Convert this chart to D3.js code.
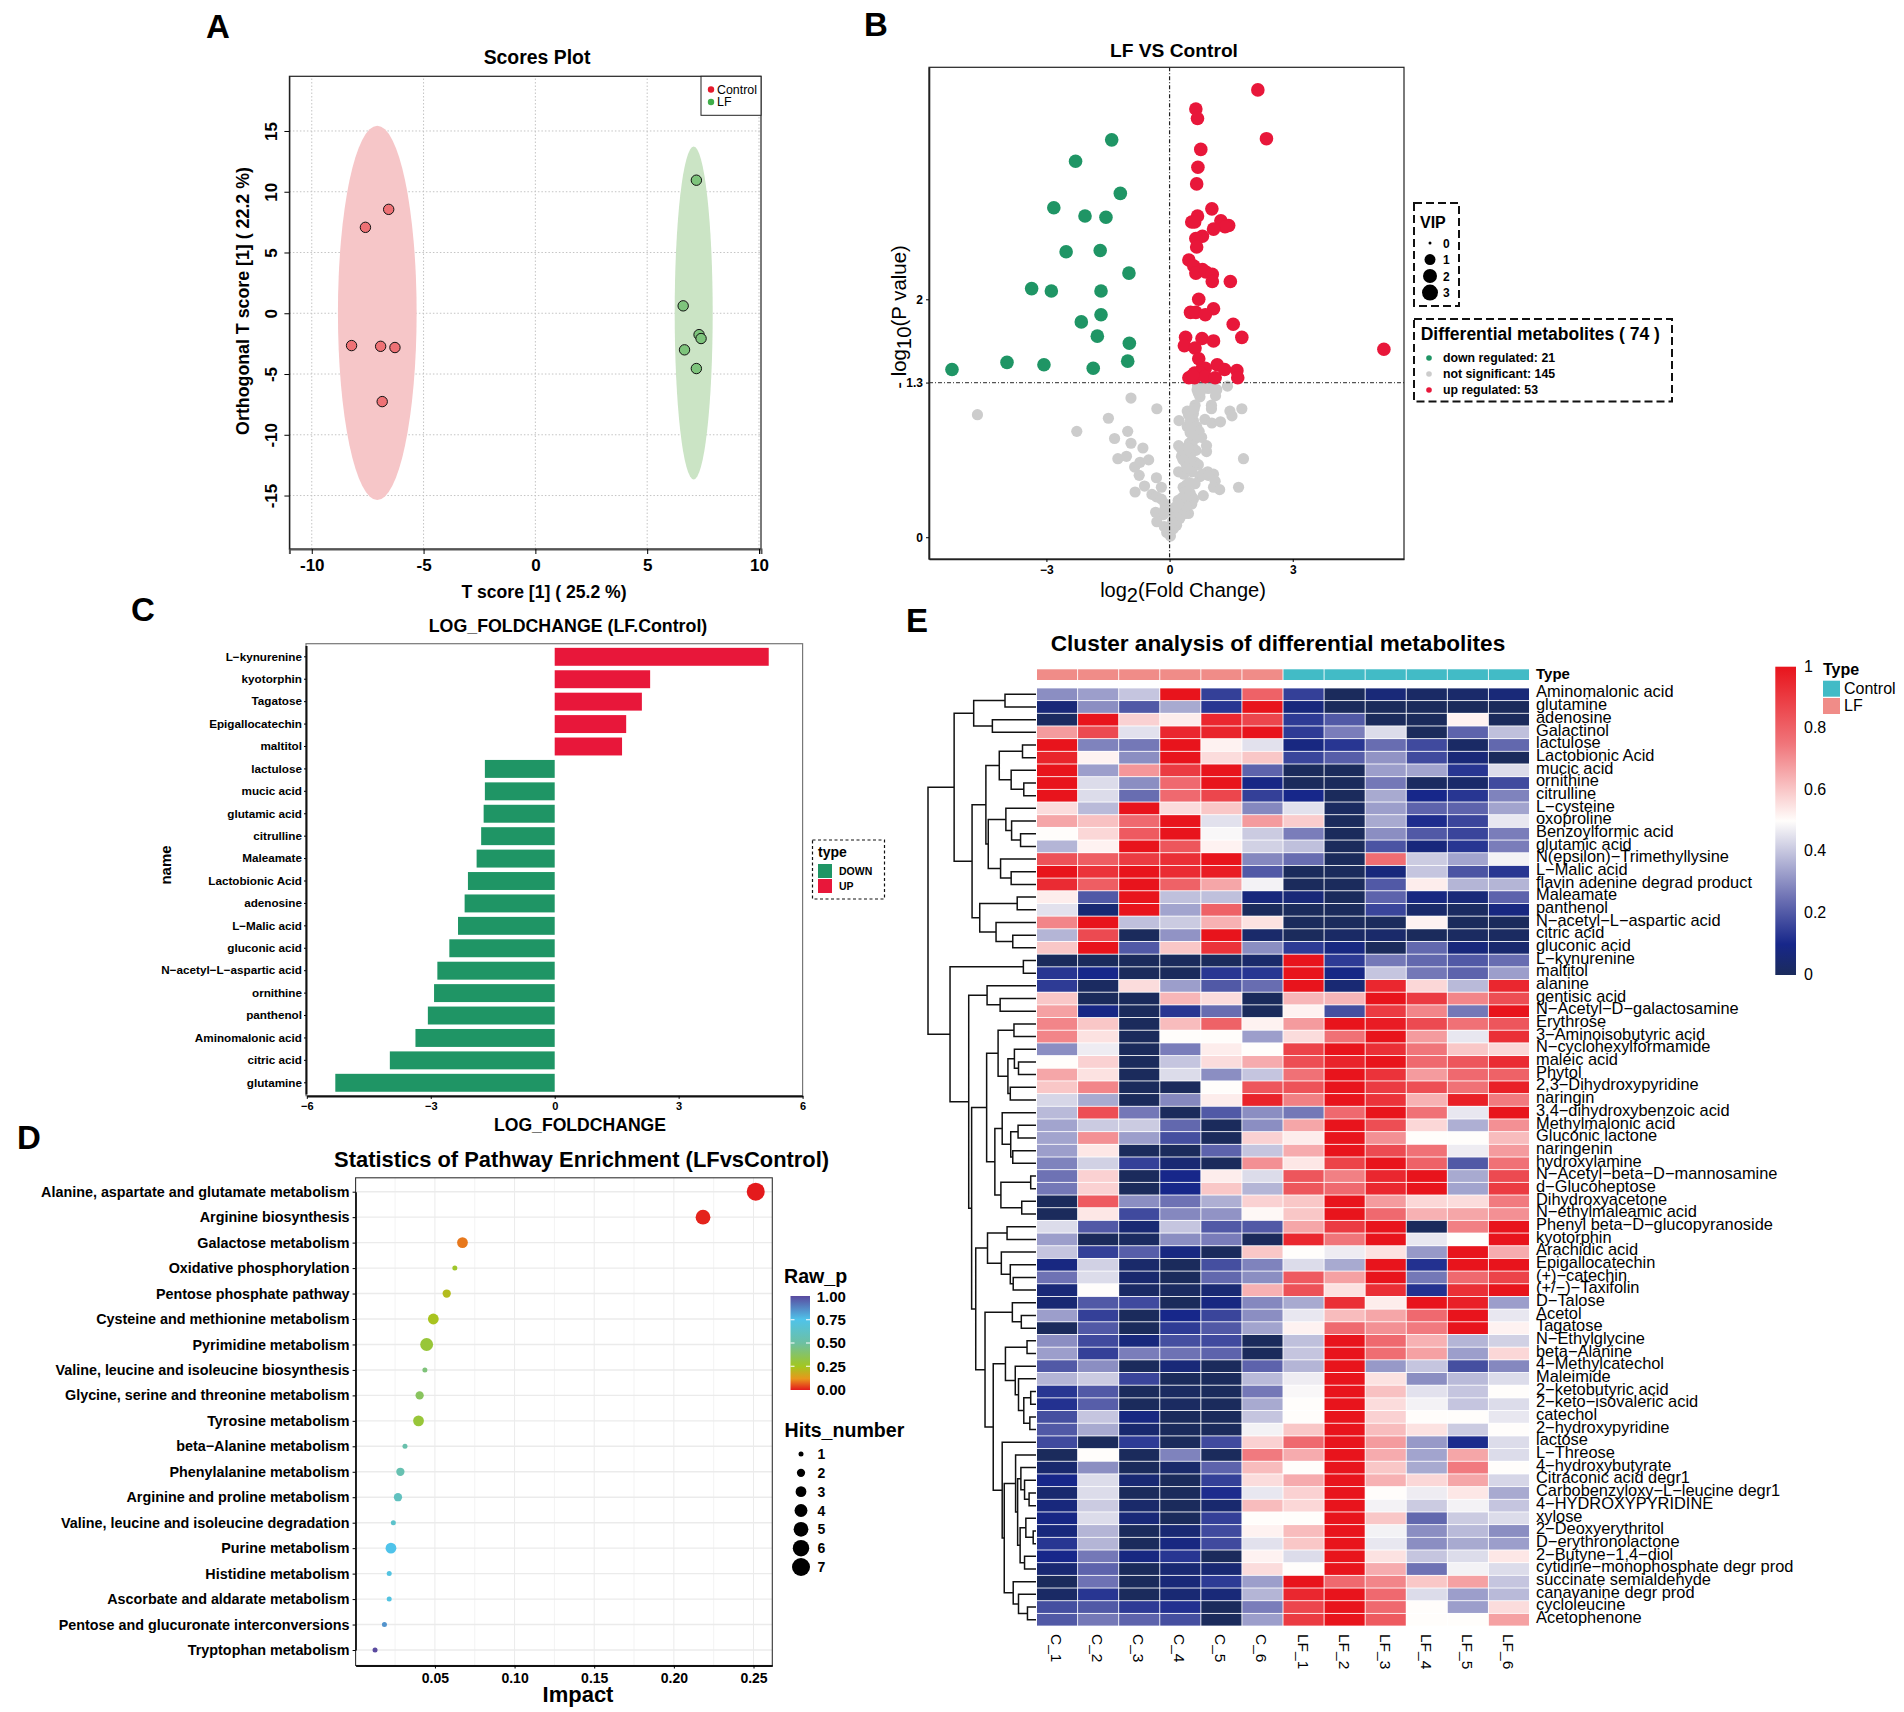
<!DOCTYPE html>
<html>
<head>
<meta charset="utf-8">
<script src="https://cdn.jsdelivr.net/npm/d3@7"></script>
<style>
  body { margin: 0; background: #fff; }
  svg { display: block; }
  text { font-family: "Liberation Sans", Arial, sans-serif; fill: #000; }
  .tb text { font-weight: bold; }
</style>
</head>
<body>
<svg id="fig" width="1904" height="1712"></svg>
<script>
// panel A, scores plot
const scoreControl = [[-8.22,-2.66],[-7.6,7.07],[-6.56,8.55],[-6.92,-2.72],[-6.28,-2.82],[-6.85,-7.27]];
const scoreLF = [[7.2,10.95],[6.61,0.61],[7.32,-1.76],[7.41,-2.08],[6.67,-3.01],[7.2,-4.55]];
const ellipseControl = [-7.07, 0.03, 1.76, 15.4]; // cx cy rx ry
const ellipseLF = [7.08, 0.02, 0.85, 13.7];

// panel B, volcano
const volcanoUp = [[2.15,3.76],[.64,3.6],[.68,3.52],[2.36,3.35],[.76,3.26],[.69,3.11],[.66,2.97],[1.03,2.76],[.68,2.7],[.54,2.65],[.61,2.65],[1.25,2.66],[1.44,2.62],[1.35,2.61],[1.07,2.59],[.8,2.53],[.64,2.51],[.66,2.44],[.47,2.33],[.59,2.28],[.8,2.25],[.64,2.22],[.88,2.23],[1.04,2.21],[1.04,2.15],[1.48,2.15],[.71,2],[1.07,1.92],[.51,1.89],[.64,1.89],[.87,1.87],[1.55,1.79],[1.76,1.68],[.39,1.68],[.79,1.67],[1.07,1.65],[.36,1.61],[.62,1.59],[5.22,1.58],[.71,1.5],[1.16,1.45],[1.34,1.41],[1.64,1.4],[.8,1.42],[.87,1.42],[.61,1.38],[.74,1.38],[.47,1.34],[.61,1.34],[.87,1.35],[1.11,1.34],[1.66,1.34],[.56,1.36]];
const volcanoDown = [[-1.41,3.34],[-2.29,3.16],[-1.2,2.89],[-2.82,2.77],[-2.06,2.7],[-1.55,2.69],[-2.52,2.4],[-1.69,2.41],[-.99,2.22],[-3.36,2.09],[-2.88,2.07],[-1.67,2.07],[-1.67,1.87],[-2.15,1.81],[-1.76,1.69],[-.98,1.63],[-5.3,1.41],[-3.96,1.47],[-3.06,1.45],[-1.86,1.42],[-1.02,1.48]];
const volcanoNot = [[-4.68,1.03],[-.94,1.17],[-.31,1.08],[-1.49,1],[-2.26,.89],[-1.02,.89],[-1.34,.83],[-.94,.79],[-.65,.75],[-1.26,.66],[-1.05,.68],[-.72,.63],[-.51,.65],[-.85,.59],[-.74,.52],[-.32,.5],[-.61,.43],[-.2,.42],[-.84,.38],[-.43,.36],[-.32,.34],[-.2,.32],[-.11,.28],[-.34,.21],[-.15,.19],[-.11,.24],[-.31,.13],[-.13,.09],[-.07,.04],[.02,.01],[-.03,.07],
  [.68,1.28],[.94,1.25],[1.15,1.24],[1.41,1.27],[1.12,1.19],[.67,1.24],[.74,1.18],[.62,1.11],[1.02,1.11],[1.02,1.08],[1.76,1.08],[1.47,1.06],[1.52,1.02],[.43,1.06],[.54,1.02],[.23,.98],[.58,.98],[.86,.99],[1.03,.96],[1.24,.97],[.43,.93],[.58,.94],[.62,.9],[.67,.87],[.78,.84],[.54,.81],[.22,.77],[.32,.73],[.9,.77],[.9,.72],[.64,.73],[.37,.7],[.46,.65],[1.8,.66],[.4,.62],[.62,.63],[.7,.61],[.54,.59],[.46,.56],[.22,.55],[.35,.53],[.93,.55],[.74,.51],[1.07,.53],[1.11,.47],[1.07,.42],[1.22,.4],[1.68,.42],[.62,.45],[.48,.46],[.33,.42],[.82,.35],[.5,.37],[.37,.35],[.58,.32],[.46,.3],[.29,.29],[.17,.21],[.46,.2],[.33,.24],[.54,.28],[.25,.16],[.13,.14],[.17,.1],[.09,.07],[.21,.18],[.29,.21],[.13,.25],
  [.7,1.21],[.82,1.26],[1.02,1.26],[.58,1.04],[.46,1.03],[.5,.97],[.66,.93],[.72,.89],[.62,.83],[.48,.79],[.27,.75],[.4,.72],[.51,.69],[.29,.68],[.58,.61],[.33,.65],[.5,.62],[.8,.53],[.94,.52],[.41,.44],[.54,.34],[.4,.32],[.24,.25],[.35,.28],[.09,.2],[.19,.14],[.05,.1],[.15,.12],[.27,.18],[.11,.23],[.37,.2],[.41,.26],[.21,.31],
  [.75,1.22],[.85,1.27],[.6,1.08],[.5,.88],[.55,.77],[.45,.75],[.55,.55],[.42,.58],[.38,.38],[.3,.33],[.2,.28],[.16,.17],[.07,.13]];
const vipSizes = [0, 1, 2, 3];
const metaboliteGroups = ["down regulated: 21", "not significant: 145", "up regulated: 53"];

// panel C, fold change bars
const fcNames = ["L\u2212kynurenine","kyotorphin","Tagatose","Epigallocatechin","maltitol","lactulose","mucic acid","glutamic acid","citrulline","Maleamate","Lactobionic Acid","adenosine","L\u2212Malic acid","gluconic acid","N\u2212acetyl\u2212L\u2212aspartic acid","ornithine","panthenol","Aminomalonic acid","citric acid","glutamine"];
const fcValues = [5.18,2.31,2.11,1.73,1.63,-1.69,-1.69,-1.72,-1.78,-1.89,-2.1,-2.18,-2.34,-2.55,-2.84,-2.92,-3.07,-3.37,-3.99,-5.31];

// panel D, pathway enrichment
const pathways = ["Alanine, aspartate and glutamate metabolism","Arginine biosynthesis","Galactose metabolism","Oxidative phosphorylation","Pentose phosphate pathway","Cysteine and methionine metabolism","Pyrimidine metabolism","Valine, leucine and isoleucine biosynthesis","Glycine, serine and threonine metabolism","Tyrosine metabolism","beta\u2212Alanine metabolism","Phenylalanine metabolism","Arginine and proline metabolism","Valine, leucine and isoleucine degradation","Purine metabolism","Histidine metabolism","Ascorbate and aldarate metabolism","Pentose and glucuronate interconversions","Tryptophan metabolism"];
const impact = [.2514,.2183,.0673,.0625,.0574,.049,.0448,.0437,.0404,.0397,.0312,.0283,.0268,.0239,.0224,.0213,.0213,.0183,.0124];
const rawP = [0,.01,.09,.27,.22,.24,.3,.42,.37,.3,.53,.55,.6,.64,.75,.72,.72,.85,1];
const hits = [7,5,3,1,2,3,4,1,2,3,1,2,2,1,3,1,1,1,1];
const hitLevels = [1,2,3,4,5,6,7];
const pLevels = [0,.25,.5,.75,1];

// panel E, heatmap
const samples = ["C_1","C_2","C_3","C_4","C_5","C_6","LF_1","LF_2","LF_3","LF_4","LF_5","LF_6"];
const sampleType = ["LF","LF","LF","LF","LF","LF","Control","Control","Control","Control","Control","Control"];
const metabolites = ["Aminomalonic acid","glutamine","adenosine","Galactinol","lactulose","Lactobionic Acid","mucic acid","ornithine","citrulline","L\u2212cysteine","oxoproline","Benzoylformic acid","glutamic acid","N(epsilon)\u2212Trimethyllysine","L\u2212Malic acid","flavin adenine degrad product","Maleamate","panthenol","N\u2212acetyl\u2212L\u2212aspartic acid","citric acid","gluconic acid","L\u2212kynurenine","maltitol","alanine","gentisic acid","N\u2212Acetyl\u2212D\u2212galactosamine","Erythrose","3\u2212Aminoisobutyric acid","N\u2212cyclohexylformamide","maleic acid","Phytol","2,3\u2212Dihydroxypyridine","naringin","3,4\u2212dihydroxybenzoic acid","Methylmalonic acid","Gluconic lactone","naringenin","hydroxylamine","N\u2212Acetyl\u2212beta\u2212D\u2212mannosamine","d\u2212Glucoheptose","Dihydroxyacetone","N\u2212ethylmaleamic acid","Phenyl beta\u2212D\u2212glucopyranoside","kyotorphin","Arachidic acid","Epigallocatechin","(+)\u2212catechin","(+/\u2212)\u2212Taxifolin","D\u2212Talose","Acetol","Tagatose","N\u2212Ethylglycine","beta\u2212Alanine","4\u2212Methylcatechol","Maleimide","2\u2212ketobutyric acid","2\u2212keto\u2212isovaleric acid","catechol","2\u2212hydroxypyridine","lactose","L\u2212Threose","4\u2212hydroxybutyrate","Citraconic acid degr1","Carbobenzyloxy\u2212L\u2212leucine degr1","4\u2212HYDROXYPYRIDINE","xylose","2\u2212Deoxyerythritol","D\u2212erythronolactone","2\u2212Butyne\u22121,4\u2212diol","cytidine\u2212monophosphate degr prod","succinate semialdehyde","canavanine degr prod","cycloleucine","Acetophenone"];
const heat = [
[.3,.33,.4,1,.15,.8,.15,0,.06,.02,.03,.06],
[.06,.3,.2,.35,.13,1,.07,0,0,0,0,0],
[.01,1,.58,.53,.95,.87,.14,.2,0,0,.52,0],
[.68,.86,.45,.95,.96,1,.14,.27,.44,0,.22,.39],
[1,.28,.26,1,.52,.45,.08,.13,.24,.17,.02,.23],
[.96,.52,.3,1,.56,.6,.16,.21,.31,.17,.06,0],
[1,.33,.69,.9,1,.22,0,0,.33,.34,.13,.44],
[1,.44,.3,.78,1,.09,0,0,.26,.01,.03,.17],
[1,.44,.24,.78,.87,.15,.1,0,.35,.1,.13,.28],
[.56,.38,1,.56,.6,.29,.45,.01,.33,.22,.22,.34],
[.66,.61,.78,1,.45,.68,.59,0,.35,.11,.16,.46],
[.5,.57,.82,1,.49,.41,.27,0,.3,.2,.16,.27],
[.37,.52,1,.83,.52,.42,.39,0,.19,.07,.13,.27],
[.84,.81,.9,.93,1,.29,.24,0,.77,.41,.34,.48],
[1,.92,1,.94,.98,.2,0,0,.07,.4,.19,.13],
[.94,.81,1,.8,.66,.48,0,0,.2,.53,.37,.37],
[.53,.2,1,.39,.39,.07,.06,0,.22,.08,.06,.22],
[.45,.05,1,.34,.8,0,0,0,.16,.03,.01,.08],
[.72,1,.39,.41,.64,.55,0,0,0,.52,0,0],
[.37,.86,0,.31,1,.03,0,.02,.03,0,.01,.01],
[.6,1,.2,.6,.92,.3,.14,.08,0,.23,.07,.04],
[0,0,0,0,0,.03,1,.14,.26,.23,.2,.24],
[.13,.1,0,0,.13,.13,1,.09,.4,.26,.22,.33],
[.14,.01,.56,.33,.2,.24,1,.05,.95,.57,.38,.95],
[.6,0,0,.63,.56,0,.63,.63,1,.9,.72,.85],
[.67,.09,0,.13,.24,0,.52,.18,.9,.72,.26,1],
[.72,.6,0,.62,.8,.52,.68,1,.98,.86,.76,.83],
[.72,.55,0,.5,.5,.33,.56,.76,1,.68,.46,.93],
[.3,.47,0,.27,.53,.5,.88,1,.93,.75,.6,.57],
[.5,.58,0,.4,.56,.65,.85,.96,1,.78,.83,.94],
[.66,.55,0,.44,.3,.4,.76,1,.92,.68,.78,.8],
[.6,.72,0,0,.5,.83,.84,1,.9,.85,.76,.97],
[.43,.35,0,.29,.53,.96,.73,1,.92,.64,.97,.74],
[.38,.85,.26,0,.2,.3,.26,.78,1,.76,.46,1],
[.34,.41,.41,.23,0,.3,.66,1,.85,.57,.36,.7],
[.34,.7,.33,.18,0,.58,.53,1,.7,.5,.5,.62],
[.33,.54,0,0,.22,.4,.65,1,.86,.76,.47,.68],
[.28,.42,.15,.05,0,.7,.54,.88,1,.8,.2,.76],
[.25,.58,0,.1,.53,.44,.83,.73,.95,1,.35,.86],
[.26,.58,0,.1,.6,.37,.83,.78,.95,1,.34,.9],
[0,.82,.3,.25,.36,.58,.6,1,.68,.57,.56,.74],
[0,.54,.17,.29,.31,.51,.6,1,.78,.64,.66,.7],
[.44,.2,.05,.4,.2,.2,.66,.9,1,0,.73,1],
[.33,0,.01,.3,.27,0,.95,.75,1,.46,.5,1],
[.4,.15,.21,.08,0,.6,.5,.47,.55,.32,1,.65],
[.08,.42,.03,0,.18,.28,.44,.35,1,.12,1,1],
[.25,.44,.04,0,.23,.3,.82,.67,1,.26,.78,.88],
[.06,.5,.02,.01,.05,.64,.84,.55,.93,.12,.93,1],
[.05,.2,.17,0,.08,.29,.35,.93,.53,1,.97,.33],
[.33,.15,0,.1,.16,.3,.46,.62,.66,.78,1,.46],
[0,.2,0,.14,.2,.34,.52,.78,.7,.74,1,.52],
[.3,.17,.07,.18,.17,0,.39,1,.78,.64,.37,.42],
[.33,.15,.27,.25,.22,0,.4,1,.77,.67,.33,.57],
[.2,.3,0,.06,0,.22,.37,1,.32,.4,.18,.29],
[.37,.41,.16,0,0,.38,.47,1,.55,.3,.38,.44],
[.13,.2,0,.01,0,.26,.49,1,.61,.45,.4,.5],
[.12,.21,0,.01,0,.35,.5,1,.56,.48,.4,.44],
[.18,.4,.08,0,0,.4,.5,1,.58,.5,.5,.46],
[.2,.35,.04,0,0,.48,.6,1,.62,.55,.41,.5],
[.17,0,.14,0,.17,.58,.78,1,.68,.32,.11,.44],
[0,.5,0,.28,0,.74,.65,1,.65,.34,.66,.44],
[.04,.3,0,.03,.22,.62,.5,1,.6,.35,.74,.5],
[.1,.44,.05,0,.15,.56,.65,1,.64,.57,.66,.43],
[.04,.44,0,0,.11,.46,.58,1,.5,.47,.54,.35],
[.07,.41,.03,0,.04,.62,.57,1,.48,.41,.48,.4],
[.09,.44,.06,0,.15,.5,.5,1,.6,.23,.41,.44],
[.07,.37,0,.05,.17,.52,.62,1,.48,.3,.38,.3],
[.13,.37,0,.08,.17,.45,.6,1,.46,.3,.35,.33],
[.1,.26,.08,.13,0,.52,.44,1,.55,.4,.44,.54],
[.05,.22,0,.05,.05,.56,.5,1,.65,.25,.48,.44],
[0,.25,0,.06,.14,.33,1,.78,.72,.6,.67,.4],
[.02,.13,0,.05,.06,.37,.95,1,.78,.44,.33,.38],
[.18,.2,.14,.12,0,.27,.87,1,.78,.5,.33,.56],
[.2,.26,.22,.18,0,.33,.9,1,.82,.5,.5,.67]
];
// dendrogram: [height, left, right], a number is a row of the heatmap (1 based)
const treeTop = [.758,
  [.577,[.287,1,2],[.404,3,4]],
  [.592,
    [.464,
      [.34,[.125,5,6],[.23,7,[.113,8,9]]],
      [.442,[.279,10,[.226,11,[.143,12,13]]],[.328,14,[.23,15,16]]]],
    [.521,[.174,17,18],[.37,19,[.215,20,21]]]]];
const treeBottom = [.796,[.117,22,23],
  [.623,[.453,24,[.332,25,26]],
    [.596,
      [.457,
        [.351,[.204,27,28],[.26,[.2,29,[.162,30,31]],[.238,32,33]]],
        [.381,[.313,34,[.234,[.166,35,36],[.215,37,38]]],[.325,[.049,39,40],[.132,41,42]]]],
      [.558,
        [.449,[.268,43,44],[.321,45,[.238,46,[.211,47,48]]]],
        [.472,[.219,49,[.136,50,51]],
          [.396,
            [.283,[.083,52,53],[.192,54,[.162,55,[.113,[.049,56,57],[.057,58,59]]]]],
            [.313,60,[.294,
              [.189,61,[.17,[.14,62,[.106,63,[.064,64,65]]],[.147,[.094,66,[.026,67,68]],[.106,69,70]]]],
              [.211,71,[.162,72,[.079,73,74]]]]]]]]]]];
const tree = [1, treeTop, treeBottom];

const RED = "#e8173a", GREEN = "#1f9565", GREY = "#cccccc";
const svg = d3.select("#fig");
svg.append("rect").attr("width", 1904).attr("height", 1712).attr("fill", "#fff");

function label(g, x, y, s, size, bold, anchor, rot) {
  const t = g.append("text").attr("font-size", size).attr("text-anchor", anchor || "start")
    .style("font-weight", bold ? "bold" : "normal").text(s);
  if (rot) t.attr("transform", `translate(${x},${y}) rotate(${rot})`);
  else t.attr("x", x).attr("y", y);
  return t;
}
function dashBox(g, x, y, w, h, dash, sw) {
  g.append("rect").attr("x", x).attr("y", y).attr("width", w).attr("height", h)
    .attr("fill", "#fff").attr("stroke", "#111").attr("stroke-width", sw).attr("stroke-dasharray", dash);
}

// panel letters
[["A",206,38],["B",864,36],["C",131,621],["D",17,1149],["E",906,632]].forEach(d => label(svg, d[1], d[2], d[0], 33, true));

// ---------- A
{
  const g = svg.append("g").attr("class", "tb");
  const x = d3.scaleLinear().domain([-11, 10.09]).range([289.4, 761]);
  const y = d3.scaleLinear().domain([-19.4, 19.5]).range([549, 76.3]);
  const xt = [-10,-5,0,5,10], yt = [-15,-10,-5,0,5,10,15];
  xt.forEach(v => g.append("line").attr("x1", x(v)).attr("x2", x(v)).attr("y1", y.range()[0]).attr("y2", y.range()[1]).attr("stroke", "#c4c4c4").attr("stroke-dasharray", "1.5 2"));
  yt.forEach(v => g.append("line").attr("y1", y(v)).attr("y2", y(v)).attr("x1", x.range()[0]).attr("x2", x.range()[1]).attr("stroke", "#c4c4c4").attr("stroke-dasharray", "1.5 2"));
  [[ellipseControl, "#f6c6c8"], [ellipseLF, "#cbe4c5"]].forEach(([e, c]) => {
    g.append("ellipse").attr("cx", x(e[0])).attr("cy", y(e[1])).attr("rx", x(e[2]) - x(0)).attr("ry", y(0) - y(e[3])).attr("fill", c);
  });
  [[scoreControl, "#ee7175"], [scoreLF, "#7ec47c"]].forEach(([pts, c]) => {
    g.selectAll(null).data(pts).join("circle").attr("cx", d => x(d[0])).attr("cy", d => y(d[1])).attr("r", 5.2).attr("fill", c).attr("stroke", "#111").attr("stroke-width", 1);
  });
  g.append("rect").attr("x", 289.4).attr("y", 76.3).attr("width", 471.6).attr("height", 472.7).attr("fill", "none").attr("stroke", "#222").attr("stroke-width", 1.2);
  const ax = g.append("g").attr("transform", "translate(0,549)").call(d3.axisBottom(x).tickValues(xt).tickFormat(d3.format("d")).tickSizeOuter(0).tickSize(5));
  ax.selectAll("text").attr("font-size", 17).attr("y", 10).text(d => String(d));
  ax.select(".domain").attr("stroke", "#555").attr("stroke-width", 2);
  const ay = g.append("g").attr("transform", "translate(289.4,0)").call(d3.axisLeft(y).tickValues(yt).tickSize(5).tickSizeOuter(0));
  ay.selectAll("text").attr("font-size", 17).attr("text-anchor", "middle").attr("dy", 0).attr("x", 0).attr("y", 0).text(d => String(d))
    .attr("transform", "translate(-12,0) rotate(-90)");
  ay.select(".domain").attr("stroke", "#222");
  label(g, 537, 64, "Scores Plot", 19.4, true, "middle");
  label(g, 544, 598, "T score [1] ( 25.2 %)", 17.6, true, "middle");
  label(g, 249, 301, "Orthogonal T score [1] ( 22.2 %)", 17.8, true, "middle", -90);
  g.append("rect").attr("x", 701).attr("y", 76.3).attr("width", 60).attr("height", 39).attr("fill", "#fff").attr("stroke", "#222").attr("stroke-width", 1);
  [["Control", "#e41a2c", 89.5], ["LF", "#3fae49", 102]].forEach(d => {
    g.append("circle").attr("cx", 711).attr("cy", d[2]).attr("r", 3.2).attr("fill", d[1]);
    label(g, 717, d[2] + 4.3, d[0], 12.4);
  });
}

// ---------- B
{
  const g = svg.append("g");
  const x = d3.scaleLinear().domain([-5.86, 5.71]).range([929, 1404]);
  const y = d3.scaleLinear().domain([-0.183, 3.95]).range([559, 67.3]);
  g.selectAll(null).data(volcanoNot).join("circle").attr("cx", d => x(d[0])).attr("cy", d => y(d[1])).attr("r", 5.6).attr("fill", GREY);
  g.append("line").attr("x1", x(0)).attr("x2", x(0)).attr("y1", 67.3).attr("y2", 559).attr("stroke", "#222").attr("stroke-width", 1.2).attr("stroke-dasharray", "4 2 1 2");
  g.append("line").attr("x1", 929).attr("x2", 1404).attr("y1", y(1.3)).attr("y2", y(1.3)).attr("stroke", "#555").attr("stroke-width", 1.3).attr("stroke-dasharray", "4 2 1 2");
  g.selectAll(null).data(volcanoDown).join("circle").attr("cx", d => x(d[0])).attr("cy", d => y(d[1])).attr("r", 6.8).attr("fill", GREEN);
  g.selectAll(null).data(volcanoUp).join("circle").attr("cx", d => x(d[0])).attr("cy", d => y(d[1])).attr("r", 6.8).attr("fill", RED);
  g.append("rect").attr("x", 929).attr("y", 67.3).attr("width", 475).attr("height", 491.7).attr("fill", "none").attr("stroke", "#222").attr("stroke-width", 1.2);
  const ax = g.append("g").attr("class", "tb").attr("transform", "translate(0,559)").call(d3.axisBottom(x).tickValues([-3,0,3]).tickSize(3).tickSizeOuter(0));
  ax.selectAll("text").attr("font-size", 12);
  ax.select(".domain").attr("stroke", "#222").attr("stroke-width", 1.6);
  const ay = g.append("g").attr("class", "tb").attr("transform", "translate(929,0)").call(d3.axisLeft(y).tickValues([0,1.3,2]).tickFormat(d => String(d)).tickSize(3).tickSizeOuter(0));
  ay.selectAll("text").attr("font-size", 12);
  ay.select(".domain").attr("stroke", "#222").attr("stroke-width", 1.6);
  label(g, 1174, 57, "LF VS Control", 19.2, true, "middle");
  const xl = label(g, 1183, 597, "log", 20, false, "middle");
  xl.append("tspan").attr("dy", 5).text("2");
  xl.append("tspan").attr("dy", -5).text("(Fold Change)");
  const yl = label(g, 906, 317, "- log", 20.4, false, "middle", -90);
  yl.append("tspan").attr("dy", 5).text("10");
  yl.append("tspan").attr("dy", -5).text("(P value)");
  // VIP legend
  dashBox(g, 1414, 203, 45, 103, "8 4", 2);
  label(g, 1420, 228, "VIP", 16, true);
  const vipR = d3.scaleLinear().domain([0, 1, 2, 3]).range([1.5, 5.5, 7, 8]);
  const vipY = d3.scaleLinear().domain([0, 3]).range([243, 292.6]);
  vipSizes.forEach(v => {
    g.append("circle").attr("cx", 1430).attr("cy", vipY(v)).attr("r", vipR(v)).attr("fill", "#000");
    label(g, 1443, vipY(v) + 4.5, v, 12, true);
  });
  // count legend
  dashBox(g, 1414, 319, 258, 82.5, "8 4", 2);
  label(g, 1420.7, 339.5, "Differential metabolites ( 74 )", 17.5, true);
  metaboliteGroups.forEach((s, i) => {
    const yy = [358, 374, 390][i];
    g.append("circle").attr("cx", 1429).attr("cy", yy).attr("r", 2.8).attr("fill", [GREEN, GREY, RED][i]);
    label(g, 1443, yy + 4, s, 12.3, true);
  });
}

// ---------- C
{
  const g = svg.append("g").attr("class", "tb");
  const x = d3.scaleLinear().domain([-6, 6]).range([306.8, 802.6]);
  const y = d3.scaleBand().domain(fcNames).range([645.6, 1094]).paddingInner(0.2).paddingOuter(0.1);
  g.selectAll(null).data(fcValues).join("rect")
    .attr("x", d => x(Math.min(0, d))).attr("width", d => Math.abs(x(d) - x(0)))
    .attr("y", (d, i) => y(fcNames[i])).attr("height", y.bandwidth())
    .attr("fill", d => d > 0 ? RED : GREEN);
  g.append("rect").attr("x", 306).attr("y", 643.7).attr("width", 496.6).attr("height", 452).attr("fill", "none").attr("stroke", "#777").attr("stroke-width", 1.2);
  const ax = g.append("g").attr("transform", "translate(0,1095.9)").call(d3.axisBottom(x).tickValues([-6,-3,0,3,6]).tickSize(3).tickSizeOuter(0));
  ax.selectAll("text").attr("font-size", 11);
  ax.select(".domain").attr("stroke", "#111").attr("stroke-width", 2);
  const ay = g.append("g").attr("transform", "translate(306,0)").call(d3.axisLeft(y).tickSize(2).tickSizeOuter(0));
  ay.selectAll("text").attr("font-size", 11.7).attr("x", -4);
  ay.select(".domain").attr("stroke", "#111").attr("stroke-width", 2);
  label(g, 568, 632, "LOG_FOLDCHANGE (LF.Control)", 17.8, true, "middle");
  label(g, 580, 1131, "LOG_FOLDCHANGE", 17.6, true, "middle");
  label(g, 171, 865, "name", 15, true, "middle", -90);
  dashBox(g, 812.5, 840, 72, 59, "3 2.5", 1.2);
  label(g, 818, 856.5, "type", 14, true);
  [["DOWN", GREEN, 864], ["UP", RED, 879]].forEach(d => {
    g.append("rect").attr("x", 818).attr("y", d[2]).attr("width", 14).attr("height", 14).attr("fill", d[1]);
    label(g, 839, d[2] + 11, d[0], 10.5, true);
  });
}

// ---------- D
{
  const g = svg.append("g").attr("class", "tb");
  const x = d3.scaleLinear().domain([0.0002, 0.2618]).range([355.6, 772.3]);
  const y = d3.scalePoint().domain(pathways).range([1191.7, 1650]);
  const pColor = d3.scaleLinear().domain([0,.12,.25,.5,.75,1]).range(["#e41a1c","#e8971c","#a3c71f","#6dc0a3","#4fc3ea","#5a4a9f"]);
  const r = d3.scaleSqrt().domain([1, 7]).range([2.5, 9]);
  d3.range(0.025, 0.26, 0.025).forEach((v, i) => {
    g.append("line").attr("x1", x(v)).attr("x2", x(v)).attr("y1", 1177.8).attr("y2", 1665.5).attr("stroke", i % 2 ? "#ebebeb" : "#f3f3f3");
  });
  pathways.forEach(p => g.append("line").attr("x1", 355.6).attr("x2", 772.3).attr("y1", y(p)).attr("y2", y(p)).attr("stroke", "#ebebeb").attr("stroke-width", 1.4));
  g.selectAll(null).data(pathways).join("circle")
    .attr("cx", (d, i) => x(impact[i])).attr("cy", d => y(d))
    .attr("r", (d, i) => r(hits[i])).attr("fill", (d, i) => pColor(rawP[i]));
  g.append("rect").attr("x", 355.6).attr("y", 1177.8).attr("width", 416.7).attr("height", 487.7).attr("fill", "none").attr("stroke", "#333").attr("stroke-width", 1.1);
  const ax = g.append("g").attr("transform", "translate(0,1665.5)").call(d3.axisBottom(x).tickValues([.05,.1,.15,.2,.25]).tickFormat(d3.format(".2f")).tickSize(3).tickSizeOuter(0));
  ax.selectAll("text").attr("font-size", 14).attr("y", 8);
  ax.select(".domain").attr("stroke", "#111").attr("stroke-width", 2);
  const ay = g.append("g").attr("transform", "translate(355.6,0)").call(d3.axisLeft(y).tickSize(3).tickSizeOuter(0));
  ay.selectAll("text").attr("font-size", 14.35).attr("x", -6);
  ay.select(".domain").attr("stroke", "#111").attr("stroke-width", 1.6);
  label(g, 581.6, 1167, "Statistics of Pathway Enrichment (LFvsControl)", 21.9, true, "middle");
  label(g, 578, 1702, "Impact", 22, true, "middle");
  // colour bar
  label(g, 784, 1282.7, "Raw_p", 19.6, true);
  const barY = d3.scaleLinear().domain([0, 1]).range([1389.5, 1296.5]);
  const defs = svg.append("defs");
  const grad = defs.append("linearGradient").attr("id", "pgrad").attr("x1", 0).attr("x2", 0).attr("y1", 1).attr("y2", 0);
  pColor.domain().forEach(v => grad.append("stop").attr("offset", v).attr("stop-color", pColor(v)));
  g.append("rect").attr("x", 790.5).attr("y", 1296).attr("width", 19.5).attr("height", 94).attr("fill", "url(#pgrad)");
  pLevels.forEach(v => {
    label(g, 816.7, barY(v) + 5.3, d3.format(".2f")(v), 15, true);
    if (v > 0 && v < 1) {
      g.append("line").attr("x1", 790.5).attr("x2", 794.5).attr("y1", barY(v)).attr("y2", barY(v)).attr("stroke", "#fff");
      g.append("line").attr("x1", 806).attr("x2", 810).attr("y1", barY(v)).attr("y2", barY(v)).attr("stroke", "#fff");
    }
  });
  label(g, 784.6, 1437, "Hits_number", 19.6, true);
  const hitY = d3.scalePoint().domain(hitLevels).range([1454, 1567]);
  hitLevels.forEach(h => {
    g.append("circle").attr("cx", 801).attr("cy", hitY(h)).attr("r", r(h)).attr("fill", "#000");
    label(g, 817.5, hitY(h) + 5, h, 14, true);
  });
}

// ---------- E
{
  const g = svg.append("g");
  const x = d3.scaleBand().domain(samples).range([1037, 1529]).paddingInner(0.022);
  const y = d3.scaleBand().domain(metabolites).range([688, 1626]).paddingInner(0.07).paddingOuter(0.03);
  const heatColor = d3.scaleLinear().domain([0,.1,.25,.5,.75,1]).range(["#1b2b5c","#17278a","#6e72b4","#fffdfb","#f0757a","#e8141c"]);
  const typeColor = { Control: "#42bbc6", LF: "#f08c88" };
  samples.forEach((s, j) => {
    g.append("rect").attr("x", x(s)).attr("y", 669.3).attr("width", x.bandwidth()).attr("height", 10.7).attr("fill", typeColor[sampleType[j]]);
    g.selectAll(null).data(heat.map(r => r[j])).join("rect")
      .attr("x", x(s)).attr("width", x.bandwidth())
      .attr("y", (d, i) => y(metabolites[i])).attr("height", y.bandwidth())
      .attr("fill", d => heatColor(d));
    label(g, x(s) + x.bandwidth() / 2 - 6, 1634, s, 15.5, false, "start", 90);
  });
  metabolites.forEach(m => label(g, 1536, y(m) + y.bandwidth() / 2 + 3.2, m, 16.4));
  label(g, 1536, 679, "Type", 15, true);
  label(g, 1278, 651, "Cluster analysis of differential metabolites", 22.6, true, "middle");

  // dendrogram, y of a node is the middle of its two children
  const hx = d3.scaleLinear().domain([0, 1]).range([1036, 928]);
  const rowY = n => y(metabolites[n - 1]) + y.bandwidth() / 2;
  const path = d3.path();
  function walk(node) {
    if (typeof node === "number") return { h: 0, y: rowY(node) };
    const a = walk(node[1]), b = walk(node[2]);
    path.moveTo(hx(a.h), a.y);
    path.lineTo(hx(node[0]), a.y);
    path.lineTo(hx(node[0]), b.y);
    path.lineTo(hx(b.h), b.y);
    return { h: node[0], y: (a.y + b.y) / 2 };
  }
  walk(tree);
  g.append("path").attr("d", path.toString()).attr("fill", "none").attr("stroke", "#111").attr("stroke-width", 1.5);

  // colour bar
  const barY = d3.scaleLinear().domain([0, 1]).range([973.7, 665.7]);
  const grad = svg.select("defs").append("linearGradient").attr("id", "hgrad").attr("x1", 0).attr("x2", 0).attr("y1", 1).attr("y2", 0);
  heatColor.domain().forEach(v => grad.append("stop").attr("offset", v).attr("stop-color", heatColor(v)));
  g.append("rect").attr("x", 1775.3).attr("y", 666.7).attr("width", 20.7).attr("height", 308.3).attr("fill", "url(#hgrad)");
  barY.ticks(5).forEach(v => label(g, 1804, barY(v) + 5.8, String(v), 16));
  label(g, 1823, 675, "Type", 16, true);
  [["Control", 680.7], ["LF", 698]].forEach(d => {
    g.append("rect").attr("x", 1823).attr("y", d[1]).attr("width", 17).attr("height", 16).attr("fill", typeColor[d[0]]);
    label(g, 1844, d[1] + 12.8, d[0], 16);
  });
}
</script>
</body>
</html>
